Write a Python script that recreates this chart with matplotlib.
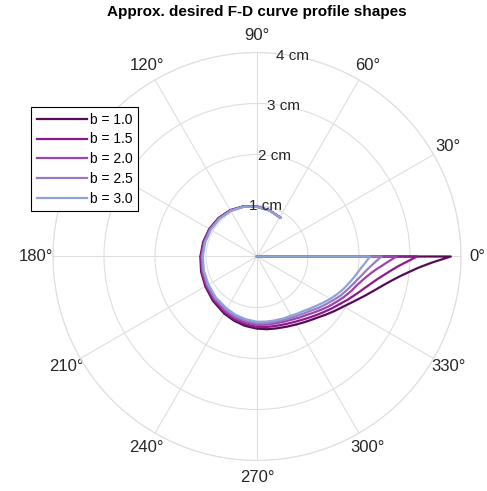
import numpy as np
import matplotlib.pyplot as plt

plt.rcParams['font.family'] = ['Liberation Sans', 'DejaVu Sans']

# clockwise sweep angle (deg) of each sample along the profile
sweep = [0, 2, 4, 6, 8, 10, 13, 16, 20, 25, 30, 35, 40, 45, 50, 55, 60, 67, 75, 82,
         90, 100, 110, 120, 135, 150, 165, 180, 195, 210, 225, 240, 255, 270, 285, 301]

# radius (cm) of each profile at those sweep angles
r_b10 = [3.80, 3.43, 3.17, 2.98, 2.82, 2.69, 2.53, 2.40, 2.25, 2.09, 1.96, 1.86, 1.77, 1.69,
         1.63, 1.58, 1.54, 1.495, 1.46, 1.44, 1.415, 1.38, 1.335, 1.29, 1.225, 1.17, 1.135,
         1.11, 1.093, 1.08, 1.068, 1.05, 1.02, 0.98, 0.94, 0.89]
r_b15 = [3.14, 2.94, 2.77, 2.64, 2.53, 2.43, 2.31, 2.21, 2.10, 1.98, 1.87, 1.78, 1.70, 1.63,
         1.57, 1.52, 1.48, 1.44, 1.41, 1.395, 1.38, 1.35, 1.31, 1.265, 1.205, 1.155, 1.123,
         1.10, 1.083, 1.072, 1.06, 1.045, 1.015, 0.978, 0.937, 0.89]
r_b20 = [2.74, 2.59, 2.47, 2.36, 2.27, 2.20, 2.11, 2.04, 1.97, 1.88, 1.79, 1.71, 1.63, 1.56,
         1.50, 1.46, 1.42, 1.385, 1.36, 1.35, 1.34, 1.31, 1.28, 1.24, 1.185, 1.14, 1.11,
         1.088, 1.074, 1.065, 1.055, 1.04, 1.013, 0.977, 0.936, 0.89]
r_b25 = [2.44, 2.35, 2.27, 2.20, 2.14, 2.09, 2.02, 1.96, 1.89, 1.81, 1.72, 1.64, 1.57, 1.50,
         1.45, 1.41, 1.38, 1.35, 1.33, 1.32, 1.31, 1.28, 1.25, 1.21, 1.16, 1.12, 1.094,
         1.075, 1.063, 1.056, 1.049, 1.038, 1.012, 0.976, 0.936, 0.89]
r_b30 = [2.22, 2.16, 2.11, 2.06, 2.02, 1.98, 1.93, 1.88, 1.82, 1.74, 1.66, 1.58, 1.51, 1.45,
         1.40, 1.37, 1.34, 1.32, 1.30, 1.29, 1.28, 1.25, 1.22, 1.18, 1.14, 1.10, 1.078,
         1.063, 1.053, 1.048, 1.043, 1.034, 1.01, 0.975, 0.935, 0.89]

b_values = [1.0, 1.5, 2.0, 2.5, 3.0]
profiles = [r_b10, r_b15, r_b20, r_b25, r_b30]
colors = ['#560b57', '#8b1a8b', '#9c44ae', '#9a7ac6', '#8fa3d7']

r_ticks = [1, 2, 3, 4]
theta_ticks = list(range(0, 360, 30))

fig = plt.figure(figsize=(4.87, 4.91), dpi=100)
ax = fig.add_axes([0.1088, 0.0621, 0.8378, 0.831], projection='polar')

for b, r, c in zip(b_values, profiles, colors):
    # start at the origin, run out along 0 deg, then sweep clockwise
    th = np.r_[0.0, -np.radians(sweep)]
    rr = np.r_[0.0, r]
    ax.plot(th, rr, color=c, lw=1.6, label='b = %.1f' % b)

ax.set_rlim(0, 4)
ax.set_thetagrids(theta_ticks, ['%d°' % t for t in theta_ticks], fontsize=12, color='#262626')
ax.set_rgrids(r_ticks, labels=[''] * len(r_ticks))
for t in r_ticks:
    ax.text(np.radians(80), t, '%d cm' % t, ha='center', va='center',
            fontsize=11, color='#262626', zorder=10)
ax.tick_params(axis='x', pad=1.5)
ax.grid(True, color='#dedede', lw=0.8)
ax.spines['polar'].set_color('#dedede')
ax.spines['polar'].set_linewidth(0.8)

fig.text(257 / 487, 1 - 12 / 491, 'Approx. desired F-D curve profile shapes',
         ha='center', va='center', fontsize=11, fontweight='bold')

leg = ax.legend(loc='upper left', bbox_to_anchor=(31 / 487, 1 - 107 / 491),
                bbox_transform=fig.transFigure, borderaxespad=0, fancybox=False,
                edgecolor='black', framealpha=1, fontsize=10, handlelength=3.6,
                labelspacing=0.42, borderpad=0.4, handletextpad=0.25)
leg.get_frame().set_linewidth(0.8)

fig.savefig('out.png', dpi=100)
